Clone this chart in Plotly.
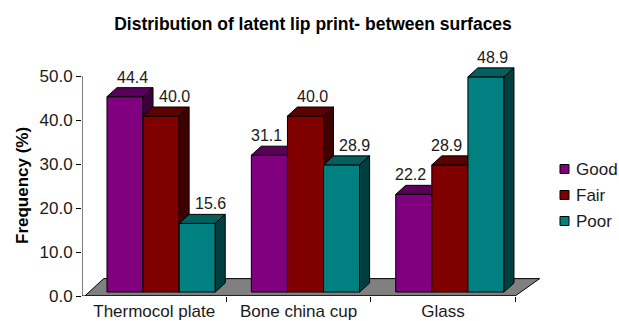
import plotly.graph_objects as go

categories = ["Thermocol plate", "Bone china cup", "Glass"]
series_names = ["Good", "Fair", "Poor"]
good = [44.4, 31.1, 22.2]
fair = [40.0, 40.0, 28.9]
poor = [15.6, 28.9, 48.9]
y_ticks = [0, 10, 20, 30, 40, 50]

front_colors = ["#800080", "#800000", "#008080"]
top_colors = ["#5a005a", "#5c0000", "#005f5f"]
side_colors = ["#3c003c", "#3e0000", "#003f3f"]

FONT = "Liberation Sans, Arial, sans-serif"
TXT = "#1a1a1a"
BAR_W = 0.25
GROUP_OFF = 0.173
BASE = 0.9
DX = 0.069
DY = 2.05
FLOOR_DX_L, FLOOR_DX_R, FLOOR_DY = 0.13, 0.17, 3.95

# plot-area geometry in pixels (for placing legend / titles in paper coords)
PL, PW, PB, PH = 82, 462, 296, 231


def px_x(px):
    return (px - PL) / PW


def px_y(py):
    return (PB - py) / PH


series_values = [good, fair, poor]
n_cat = len(categories)

fig = go.Figure()

# floor of the 3-D plot
fig.add_trace(go.Scatter(
    x=[0.02, n_cat, n_cat + FLOOR_DX_R, 0.02 + FLOOR_DX_L, 0.02],
    y=[0, 0, FLOOR_DY, FLOOR_DY, 0],
    fill="toself", fillcolor="#808080", mode="lines",
    line=dict(color="black", width=1), hoverinfo="skip", showlegend=False))

annotations = []
for j, (name, vals) in enumerate(zip(series_names, series_values)):
    fx, fy, tx, ty, sx, sy = [], [], [], [], [], []
    for i, v in enumerate(vals):
        x0 = i + GROUP_OFF + j * BAR_W
        x1 = x0 + BAR_W
        b = BASE
        t = BASE + v
        fx += [x0, x1, x1, x0, x0, None]
        fy += [b, b, t, t, b, None]
        tx += [x0, x0 + DX, x1 + DX, x1, x0, None]
        ty += [t, t + DY, t + DY, t, t, None]
        sx += [x1, x1 + DX, x1 + DX, x1, x1, None]
        sy += [b, b + DY, t + DY, t, b, None]
        # label nudged away from a taller neighbour (as the original chart does)
        prev_v = series_values[j - 1][i] if j > 0 else None
        next_v = series_values[j + 1][i] if j < len(series_values) - 1 else None
        if prev_v is not None and prev_v > v:
            shift = 13
        elif next_v is not None and next_v > v:
            shift = -3
        else:
            shift = 7
        annotations.append(dict(
            x=(x0 + x1) / 2, y=t + DY, xref="x", yref="y",
            text=f"{v:.1f}", showarrow=False, xanchor="center", yanchor="bottom",
            xshift=shift, yshift=0, font=dict(family=FONT, size=16, color=TXT)))
    for xs, ys, col in [(fx, fy, front_colors[j]), (tx, ty, top_colors[j]), (sx, sy, side_colors[j])]:
        fig.add_trace(go.Scatter(x=xs, y=ys, fill="toself", fillcolor=col, mode="lines",
                                 line=dict(color="black", width=1), hoverinfo="skip",
                                 showlegend=False))

# manual legend (square swatch + label)
legend_y = [169, 195, 221]
shapes = [
    dict(type="line", xref="x", yref="y", x0=0, x1=0, y0=0, y1=max(y_ticks),
         line=dict(color="black", width=1)),
    dict(type="line", xref="x", yref="y", x0=0, x1=n_cat, y0=0, y1=0,
         line=dict(color="black", width=1)),
]
for j, name in enumerate(series_names):
    ly = legend_y[j]
    shapes.append(dict(type="rect", xref="paper", yref="paper",
                       x0=px_x(560), x1=px_x(569), y0=px_y(ly + 4.5), y1=px_y(ly - 4.5),
                       fillcolor=front_colors[j], line=dict(color="black", width=1)))
    annotations.append(dict(text=name, xref="paper", yref="paper", x=px_x(574), y=px_y(ly),
                            xanchor="left", yanchor="middle", showarrow=False,
                            font=dict(family=FONT, size=17, color=TXT)))

annotations.append(dict(text="<b>Frequency (%)</b>", textangle=-90, xref="paper", yref="paper",
                        x=px_x(22), y=px_y(186), showarrow=False,
                        xanchor="center", yanchor="middle",
                        font=dict(family=FONT, size=17, color="black")))

fig.update_layout(
    width=619, height=321,
    margin=dict(l=PL, r=619 - PL - PW, t=PB - PH, b=321 - PB, autoexpand=False),
    paper_bgcolor="white", plot_bgcolor="white",
    font=dict(family=FONT, size=17, color=TXT),
    title=dict(text="<b>Distribution of latent lip print- between surfaces</b>",
               x=0.5, xref="paper", y=1 - 24 / 321, yref="container", yanchor="middle",
               font=dict(family=FONT, size=17.5, color="black")),
    showlegend=False,
    xaxis=dict(range=[0, 3.2], showgrid=False, zeroline=False, showline=False,
               automargin=False,
               tickvals=[i + 0.5 for i in range(n_cat)], ticktext=categories, ticks="",
               ticklabelstandoff=3, tickfont=dict(family=FONT, size=17, color=TXT),
               minor=dict(ticks="outside", ticklen=5, tickcolor="black",
                          tickvals=list(range(1, n_cat + 1))),
               fixedrange=True),
    yaxis=dict(range=[0, 52.5], showgrid=False, zeroline=False, showline=False,
               automargin=False,
               tickvals=y_ticks, ticktext=[f"{v:.1f}" for v in y_ticks],
               tickfont=dict(family=FONT, size=17, color=TXT),
               ticks="outside", ticklen=5, tickcolor="black", fixedrange=True),
    shapes=shapes,
    annotations=annotations,
)

fig.write_html("out.html")
